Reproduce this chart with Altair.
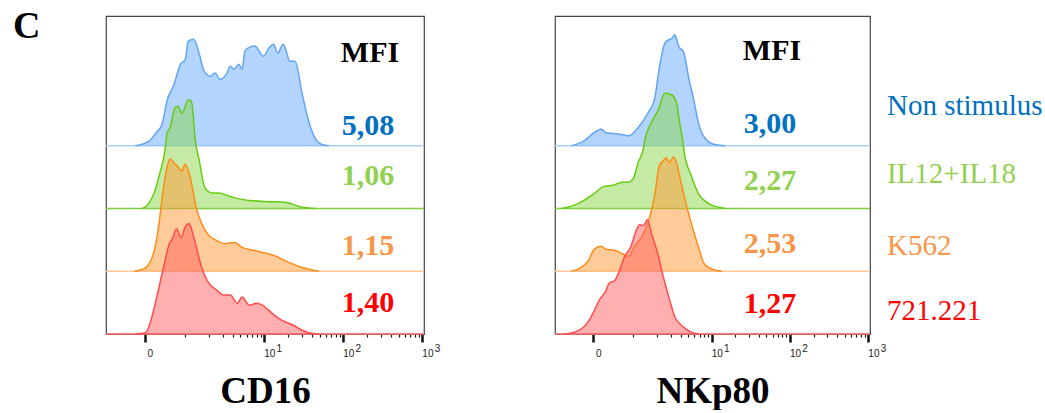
import math
import altair as alt
import pandas as pd

# ---------------- data (display units: log10 decades, "0" sits at ZERO_POS) ----------------
X_DOMAIN = [-1.0, 3.02]
Y_DOMAIN = [0, 5.07]
ZERO_POS = -0.51

samples = ["Non stimulus", "IL12+IL18", "K562", "721.221"]
offsets = [3, 2, 1, 0]
line_colors = ["#62a5f4", "#66cc11", "#ff8c1a", "#ff4d4d"]
fill_colors = ["#66aaff", "#8ad54a", "#ff9933", "#ff6060"]
base_colors = ["#a9cff8", "#7ccf3a", "#ffc79a", "#ff6a6a"]
text_colors = ["#0070c0", "#92d050", "#f79646", "#ff0000"]

cd16_mfi = ["5,08", "1,06", "1,15", "1,40"]
nkp80_mfi = ["3,00", "2,27", "2,53", "1,27"]

decade_pos = [1, 2, 3]
decade_exp = ["1", "2", "3"]

# CD16 histograms
cd16_nonstim_x = [-0.63, -0.45, -0.38, -0.29, -0.23, -0.14, -0.06, 0.0, 0.04, 0.11, 0.18, 0.24, 0.32, 0.38,
                  0.44, 0.53, 0.57, 0.62, 0.68, 0.72, 0.76, 0.88, 0.99, 1.06, 1.12, 1.17, 1.24, 1.29, 1.32,
                  1.39, 1.48, 1.56, 1.64, 1.73, 1.82]
cd16_nonstim_h = [0, 0.08, 0.19, 0.35, 0.71, 0.98, 1.30, 1.37, 1.67, 1.70, 1.46, 1.19, 1.11, 1.16,
                  1.06, 1.16, 1.27, 1.22, 1.30, 1.22, 1.52, 1.59, 1.43, 1.56, 1.62, 1.48, 1.62, 1.46, 1.35,
                  1.35, 0.83, 0.40, 0.13, 0.02, 0]
cd16_il_x = [-0.54, -0.48, -0.38, -0.32, -0.25, -0.23, -0.19, -0.13, -0.09, -0.04, 0.04, 0.08, 0.13, 0.18,
             0.25, 0.34, 0.43, 0.53, 0.63, 0.81, 1.06, 1.26, 1.48, 1.64]
cd16_il_h = [0, 0.05, 0.29, 0.56, 0.97, 1.19, 1.29, 1.60, 1.63, 1.52, 1.73, 1.71, 1.08, 0.76,
             0.33, 0.25, 0.25, 0.21, 0.17, 0.13, 0.11, 0.10, 0.02, 0]
cd16_k562_x = [-0.64, -0.50, -0.39, -0.33, -0.29, -0.23, -0.19, -0.14, -0.10, -0.04, 0.0, 0.06, 0.15, 0.21,
               0.30, 0.40, 0.50, 0.63, 0.72, 0.88, 1.01, 1.13, 1.26, 1.48, 1.69]
cd16_k562_h = [0, 0.06, 0.33, 0.76, 1.17, 1.65, 1.79, 1.73, 1.68, 1.60, 1.71, 1.52, 0.97, 0.76,
               0.57, 0.49, 0.44, 0.46, 0.38, 0.33, 0.29, 0.25, 0.17, 0.06, 0]
cd16_721_x = [-0.63, -0.50, -0.42, -0.33, -0.26, -0.20, -0.16, -0.11, -0.05, 0.0, 0.05, 0.11, 0.21, 0.30,
              0.40, 0.49, 0.57, 0.66, 0.72, 0.81, 0.91, 1.01, 1.10, 1.22, 1.37, 1.48, 1.56, 1.69]
cd16_721_h = [0, 0.02, 0.27, 0.75, 1.13, 1.44, 1.52, 1.68, 1.54, 1.70, 1.76, 1.54, 1.06, 0.81,
              0.70, 0.62, 0.62, 0.49, 0.59, 0.46, 0.49, 0.43, 0.33, 0.22, 0.14, 0.06, 0.02, 0]

# NKp80 histograms
nkp80_nonstim_x = [-0.79, -0.63, -0.50, -0.41, -0.35, -0.19, -0.06, 0.06, 0.19, 0.27, 0.33, 0.40, 0.45, 0.49,
                   0.53, 0.55, 0.58, 0.64, 0.71, 0.77, 0.83, 0.91, 1.04, 1.17]
nkp80_nonstim_h = [0, 0.08, 0.21, 0.27, 0.21, 0.19, 0.16, 0.29, 0.53, 0.74, 1.23, 1.63, 1.69, 1.71,
                   1.77, 1.71, 1.58, 1.50, 1.06, 0.74, 0.37, 0.13, 0.02, 0]
nkp80_il_x = [-0.92, -0.76, -0.63, -0.50, -0.38, -0.26, -0.15, -0.06, 0.0, 0.06, 0.13, 0.14, 0.23, 0.32,
              0.40, 0.49, 0.55, 0.59, 0.64, 0.65, 0.74, 0.83, 0.96, 1.09, 1.17]
nkp80_il_h = [0, 0.05, 0.13, 0.24, 0.35, 0.37, 0.42, 0.42, 0.48, 0.73, 0.97, 1.05, 1.37, 1.58,
              1.84, 1.81, 1.69, 1.37, 1.00, 0.89, 0.52, 0.24, 0.08, 0.02, 0]
nkp80_k562_x = [-0.79, -0.67, -0.58, -0.50, -0.41, -0.35, -0.26, -0.19, -0.06, 0.01, 0.13, 0.21, 0.27, 0.33,
                0.38, 0.42, 0.46, 0.51, 0.55, 0.59, 0.65, 0.74, 0.83, 0.91, 1.04, 1.13]
nkp80_k562_h = [0, 0.06, 0.16, 0.35, 0.40, 0.35, 0.34, 0.31, 0.24, 0.39, 0.60, 0.87, 1.19, 1.68,
                1.76, 1.81, 1.73, 1.82, 1.73, 1.52, 1.19, 0.76, 0.39, 0.11, 0.02, 0]
nkp80_721_x = [-0.88, -0.71, -0.58, -0.50, -0.44, -0.35, -0.31, -0.24, -0.18, -0.12, -0.03, 0.04, 0.08, 0.13,
               0.18, 0.23, 0.32, 0.38, 0.45, 0.53, 0.64, 0.74, 0.83]
nkp80_721_h = [0, 0.05, 0.19, 0.37, 0.53, 0.69, 0.81, 0.85, 1.00, 1.21, 1.40, 1.66, 1.74, 1.73,
               1.82, 1.61, 1.24, 0.92, 0.60, 0.27, 0.11, 0.03, 0]

cd16_curves = [(cd16_nonstim_x, cd16_nonstim_h), (cd16_il_x, cd16_il_h),
               (cd16_k562_x, cd16_k562_h), (cd16_721_x, cd16_721_h)]
nkp80_curves = [(nkp80_nonstim_x, nkp80_nonstim_h), (nkp80_il_x, nkp80_il_h),
                (nkp80_k562_x, nkp80_k562_h), (nkp80_721_x, nkp80_721_h)]

# ---------------- axis (biexponential-like display) ----------------
major_ticks = [ZERO_POS, 1, 2, 3]
minor_ticks = [0.0] + [d + math.log10(k) for d in (0, 1, 2) for k in range(2, 10)]
all_ticks = sorted(major_ticks + minor_ticks)
major_test = "indexof([" + ",".join(str(v) for v in major_ticks) + "], datum.value) >= 0"
label_expr = "datum.value < -0.3 ? '0' : (datum.value == 1 || datum.value == 2 || datum.value == 3) ? '10' : ''"


def make_axis(title):
    return alt.Axis(
        values=all_ticks, title=title, grid=False,
        labelExpr=label_expr, labelOverlap=False, labelFlush=False,
        labelFont="Liberation Sans", labelFontSize=10, labelColor="#222222",
        labelAlign="center", labelOffset=5, labelPadding=6,
        tickColor="#111111",
        tickSize={"condition": {"test": major_test, "value": 8}, "value": 3},
        tickWidth={"condition": {"test": major_test, "value": 2.5}, "value": 1.2},
        domainColor="#555555", domainWidth=1,
        titleFont="Liberation Serif", titleFontSize=37, titleFontWeight="bold",
        titleColor="#000000", titleBaseline="alphabetic", titleY=68,
    )


def panel(curves, mfi_values, title, width, mfi_pos, value_ys, legend=False):
    x_scale = alt.Scale(domain=X_DOMAIN, nice=False, zero=False)
    y_scale = alt.Scale(domain=Y_DOMAIN, nice=False, zero=False)
    axis = make_axis(title)
    layers = []
    for i, (xs, hs) in enumerate(curves):
        df = pd.DataFrame({"u": xs, "top": [offsets[i] + h for h in hs], "base": offsets[i]})
        rule_df = pd.DataFrame({"base": [offsets[i]]})
        layers.append(
            alt.Chart(rule_df).mark_rule(color=base_colors[i], strokeWidth=1.5).encode(
                y=alt.Y("base:Q", scale=y_scale, axis=None)))
        base = alt.Chart(df)
        layers.append(base.mark_area(color=fill_colors[i], opacity=0.5, interpolate="monotone").encode(
            x=alt.X("u:Q", scale=x_scale, axis=axis),
            y=alt.Y("top:Q", scale=y_scale, axis=None),
            y2="base:Q"))
        layers.append(base.mark_line(color=line_colors[i], strokeWidth=1.5, interpolate="monotone").encode(
            x=alt.X("u:Q", scale=x_scale, axis=axis),
            y=alt.Y("top:Q", scale=y_scale, axis=None)))
    # decade exponents of the tick labels (10^1, 10^2, 10^3)
    layers.append(alt.Chart(pd.DataFrame({"u": decade_pos, "t": decade_exp})).mark_text(
        font="Liberation Sans", fontSize=10, color="#222222", align="center", baseline="middle",
        dx=15).encode(
        x=alt.X("u:Q", scale=x_scale, axis=axis), y=alt.value(333), text="t:N"))
    # MFI header
    layers.append(alt.Chart(pd.DataFrame({"t": ["MFI"]})).mark_text(
        font="Liberation Serif", fontSize=30, fontWeight="bold", color="#000000",
        align="center", baseline="middle").encode(
        text="t:N", x=alt.value(mfi_pos[0]), y=alt.value(mfi_pos[1])))
    for i, v in enumerate(mfi_values):
        layers.append(alt.Chart(pd.DataFrame({"t": [v]})).mark_text(
            font="Liberation Serif", fontSize=30, fontWeight="bold", color=text_colors[i],
            align="center", baseline="middle").encode(
            text="t:N", x=alt.value(mfi_pos[0] - 2), y=alt.value(value_ys[i])))
    if legend:
        legend_ys = [90, 158, 230, 295]
        for i, s in enumerate(samples):
            layers.append(alt.Chart(pd.DataFrame({"t": [s]})).mark_text(
                font="Liberation Serif", fontSize=29, color=text_colors[i],
                align="left", baseline="middle").encode(
                text="t:N", x=alt.value(332), y=alt.value(legend_ys[i])))
    else:
        layers.append(alt.Chart(pd.DataFrame({"t": ["C"]})).mark_text(
            font="Liberation Serif", fontSize=38, fontWeight="bold", color="#000000",
            align="left", baseline="top").encode(
            text="t:N", x=alt.value(-93), y=alt.value(-8)))
    return alt.layer(*layers).properties(width=width, height=318)


left = panel(cd16_curves, cd16_mfi, "CD16", 318, (264, 37), [110, 160, 230, 287])
right = panel(nkp80_curves, nkp80_mfi, "NKp80", 315, (217, 35), [108, 165, 228, 288], legend=True)

chart = alt.hconcat(left, right, spacing=131, bounds="flush").properties(
    padding={"left": 12, "top": 7, "right": 0, "bottom": 0}
).configure_view(stroke="#444444", strokeWidth=1.2)

chart.save("out.html", embed_options={"renderer": "svg", "actions": False})
